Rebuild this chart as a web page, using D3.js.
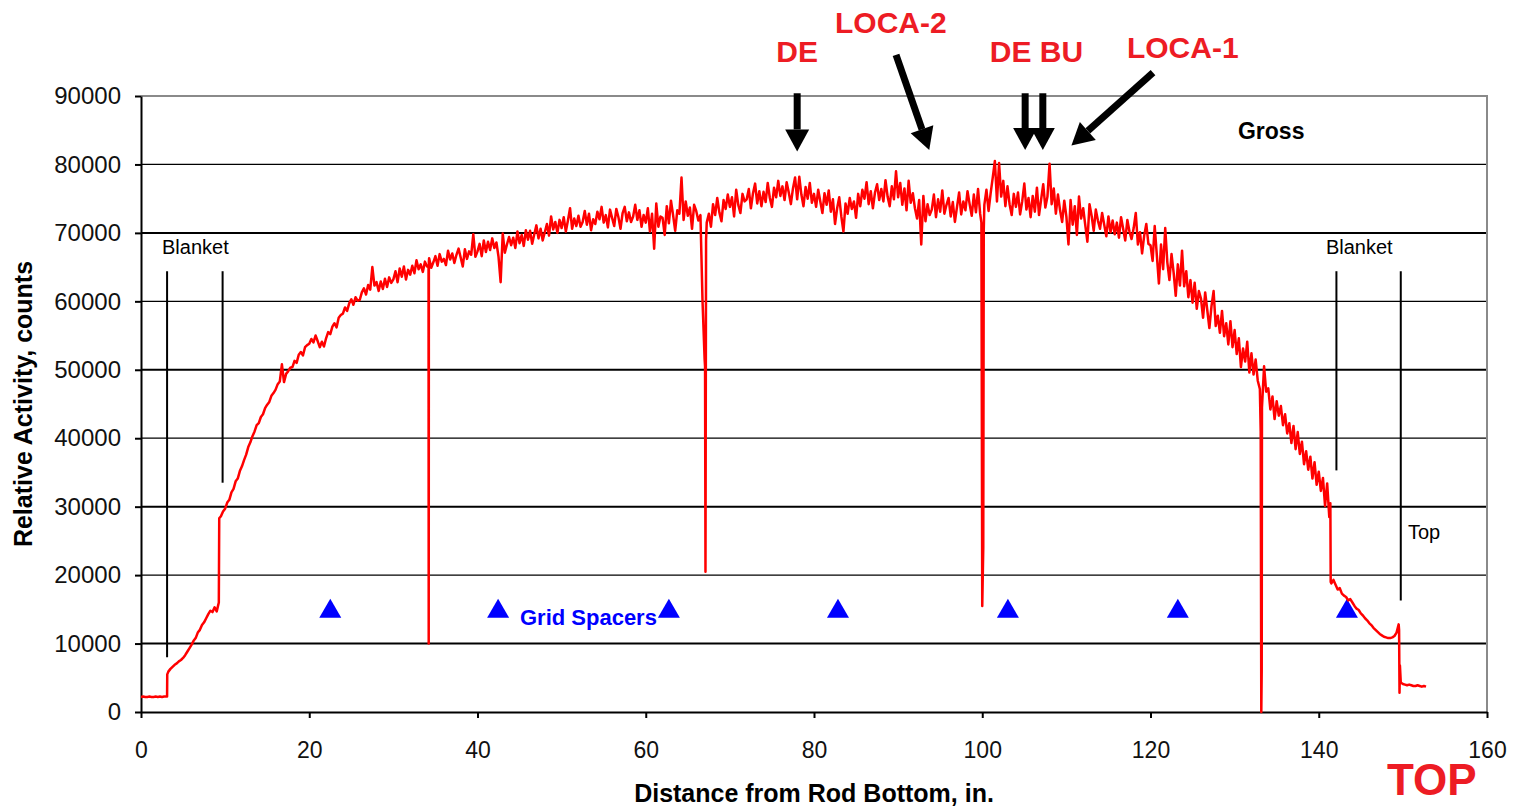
<!DOCTYPE html>
<html lang="en">
<head>
<meta charset="UTF-8">
<title>Gross gamma scan</title>
<script src="https://cdn.jsdelivr.net/npm/d3@7"></script>
<style>
  body { margin: 0; background: #fff; }
  text { font-family: "Liberation Sans", Arial, sans-serif; }
</style>
</head>
<body>
<div id="chart"></div>
<script>
// gross scan, one reading every 0.25 in from the rod bottom
const scanStart = 0, scanStep = 0.25;
const counts = [
  2200, 2250, 2200, 2200, 2250, 2200, 2200, 2250,
  2200, 2250, 2200, 2250, 2250, 5900, 6300, 6600,
  6900, 7100, 7400, 7600, 7900, 8300, 8800, 9300,
  9800, 10400, 10800, 11600, 12000, 12700, 13100, 13700,
  14300, 14800, 14600, 15300, 14700, 16000, 28600, 29300,
  29700, 30600, 31000, 32100, 32600, 33700, 34100, 35200,
  35900, 36800, 37600, 38700, 39400, 40300, 41000, 41900,
  42200, 43100, 43500, 44400, 44900, 45300, 46200, 46600,
  47100, 47900, 48300, 50800, 48200, 49400, 49800, 50300,
  50400, 51300, 51000, 52200, 52600, 52100, 53300, 53600,
  53800, 54500, 54000, 55000, 54200, 53300, 54100, 53400,
  54600, 55500, 55200, 56300, 56800, 56200, 57600, 58000,
  58200, 59100, 58600, 59700, 60300, 59500, 60600, 60100,
  60200, 61300, 61900, 61000, 62400, 61700, 65000, 62300,
  62800, 61500, 62900, 61800, 63300, 62100, 63500, 62700,
  63200, 64400, 62800, 64800, 63600, 65100, 63200, 64600,
  63900, 65200, 64100, 66000, 64700, 65400, 64300, 65800,
  65100, 66300, 64900, 65700, 66600, 65200, 66900, 65800,
  66200, 65300, 67400, 66100, 67000, 65600, 66800, 67700,
  66400, 65100, 67600, 66200, 67300, 66800, 69800, 66500,
  67300, 68400, 66600, 68900, 67200, 68700, 67500, 69200,
  67800, 68600, 66500, 62800, 69900, 67100, 68300, 69400,
  68200, 69300, 67800, 70200, 68500, 69700, 68100, 70400,
  69000, 70300, 68400, 69800, 71100, 69200, 70600, 68900,
  70100, 71300, 69600, 72400, 70500, 71600, 70000, 71900,
  70700, 72300, 70200, 71800, 73600, 70600, 72100, 71000,
  72500, 70900, 71600, 73200, 71200, 72800, 70400, 72000,
  71300, 73100, 72000, 73800, 71500, 72600, 70800, 73400,
  72200, 71000, 73500, 72300, 70600, 72900, 73800, 71700,
  73000, 71600, 72400, 74100, 71900, 73300, 70900, 72600,
  71500, 73600, 70200, 72800, 67700, 74300, 70900, 72400,
  72200, 69700, 73900, 71400, 74700, 72600, 70300, 73300,
  72800, 78100, 71900, 74600, 72500, 73700, 70600, 74100,
  73200, 71800, 72600, 60000, 51500, 71500, 72800, 70900,
  74200, 72600, 75100, 73000, 71700, 74800, 73500, 75600,
  73800, 75200, 72400, 76300, 74100, 72900, 75700, 74600,
  74900, 76400, 73600, 75800, 77200, 74300, 76100, 73900,
  76000, 74500, 77300, 75100, 73800, 76600, 75200, 77600,
  75400, 76800, 74800, 77400, 75900, 74200, 76500, 78100,
  74900, 78200, 75600, 73900, 76700, 75000, 77300, 74400,
  75700, 73800, 76300, 74600, 72900, 75800, 74100, 76200,
  73100, 74900, 71300, 73600, 75200, 72400, 70200, 74300,
  72800, 75100, 73500, 74600, 72200, 75700, 73900, 76300,
  75000, 77400, 74200, 76100, 73600, 75900, 77100, 74800,
  76400, 74600, 77700, 75300, 73900, 76800, 74900, 79000,
  75200, 77300, 74100, 76500, 73300, 77600, 74400, 75800,
  73600, 72100, 74800, 68300, 75400, 71700, 74200, 72600,
  73400, 75600, 72300, 74900, 73100, 76200, 72800, 74100,
  75100, 72400, 74500, 71600, 73800, 75900, 72700, 74600,
  73300, 76100, 74200, 72500, 75600, 73000, 76400, 72800,
  15500, 74100, 76300, 73200, 75800, 78100, 80500, 74600,
  80200, 75300, 77600, 73900, 76800, 74200, 72600, 75700,
  73800, 75900, 72700, 74600, 77200, 73400, 75100, 72300,
  75400, 73100, 76600, 72600, 74900, 77100, 73700, 75300,
  80100, 74200, 76500, 72800, 75600, 73300, 71600, 74700,
  72400, 68300, 74800, 71200, 73900, 69700, 75300, 72100,
  73600, 71100, 68700, 74200, 72500, 70300, 73400, 71800,
  70600, 72900, 71200, 69500, 72400, 70100, 71800, 69800,
  71500, 69300, 72300, 70600, 68900, 71900, 70200, 69100,
  70700, 72900, 68300, 70100, 67000, 69600, 71300, 68400,
  68200, 65900, 71000, 66800, 62600, 68300, 64700, 70700,
  65700, 63100, 66900, 64200, 60800, 65400, 62300, 67400,
  62200, 64400, 60600, 63100, 59800, 62700, 58900, 61500,
  60400, 57600, 61300, 58700, 56100, 59300, 61500, 56400,
  57900, 55400, 58600, 54900, 56800, 53700, 57100, 53300,
  55800, 52300, 54600, 50400, 53100, 51200, 54100, 49600,
  52400, 49300, 51500, 48400, 47200, 44500, 50500, 46800,
  47300, 44200, 46100, 42800, 45400, 43300, 44700, 41900,
  43500, 40700, 42200, 39300, 41800, 38400, 40900, 37700,
  39500, 36200, 38100, 35400, 37300, 34100, 36500, 33200,
  35100, 32300, 34200, 30100, 33400, 28500, 18800, 19300,
  18600, 17900, 18100, 17300, 17000, 16800, 16300, 16500,
  16000, 15500, 15100, 14900, 14400, 14100, 13700, 13400,
  13000, 12700, 12300, 12000, 11700, 11400, 11200, 11000,
  10900, 10800, 10800, 10900, 11100, 11600, 12800, 4300,
  4100, 4000, 3900, 4000, 3900, 3800, 3800, 3900,
  3800, 3700, 3800, 3700
];

// sharp steps and dips that fall between the regular readings [in, counts]
const features = [
  [3.1, 2250], [3.12, 5500], [9.3, 28300],
  [34.18, 65000], [34.2, 10000], [34.22, 65800],
  [67.05, 50500], [67.1, 20500], [67.17, 69000],
  [99.9, 71500], [100.12, 24000], [100.18, 70500],
  [133.1, 41000], [133.17, 0], [133.22, 6000],
  [141.38, 30500], [141.42, 19000],
  [149.55, 12000], [149.6, 2800], [149.65, 6800]
];

const spacerPositions = [22.5, 42.45, 62.75, 82.85, 103.05, 123.25, 143.35];
const spacerLevel = 14700;

const xTicks = [0, 20, 40, 60, 80, 100, 120, 140, 160];
const yTicks = [0, 10000, 20000, 30000, 40000, 50000, 60000, 70000, 80000, 90000];

// vertical region markers [in, top, bottom]
const regionLines = [[3.1, 64400, 8000], [9.7, 64400, 33500], [142.1, 64400, 35300], [149.75, 64400, 16300]];

// arrows [fromIn, fromCounts, toIn, toCounts]
const arrows = [
  [78.0, 90400, 78.0, 81900],
  [89.75, 96000, 93.7, 82100],
  [105.1, 90400, 105.1, 82100],
  [107.2, 90400, 107.2, 82100],
  [120.3, 93400, 110.6, 82750]
];

const width = 1518, height = 809;
const margin = {top: 96, right: 31, bottom: 97, left: 141};
const iw = width - margin.left - margin.right,
      ih = height - margin.top - margin.bottom;

const svg = d3.select("#chart").append("svg")
    .attr("width", width).attr("height", height)
    .style("background", "#fff");
const g = svg.append("g").attr("transform", `translate(${margin.left},${margin.top})`);

const x = d3.scaleLinear().domain([0, 160]).range([0, iw]);
const y = d3.scaleLinear().domain([0, 90000]).range([ih, 0]);

// horizontal gridlines
g.selectAll(".grid").data(yTicks.filter(v => v > 0 && v < 90000)).join("line")
    .attr("x1", 0).attr("x2", iw)
    .attr("y1", d => y(d)).attr("y2", d => y(d))
    .attr("stroke", "#000")
    .attr("stroke-width", d => (d / 10000) % 2 === 1 ? 2 : 1.3);

// plot-area border top / right
g.append("path")
    .attr("d", `M0,${y(90000)}H${iw}V${ih}`)
    .attr("fill", "none").attr("stroke", "#8a8a8a").attr("stroke-width", 2);

// axes
const yAxis = g.append("g")
    .call(d3.axisLeft(y).tickValues(yTicks).tickSize(6).tickSizeOuter(0).tickPadding(14).tickFormat(d3.format("d")));
const xAxis = g.append("g").attr("transform", `translate(0,${ih})`)
    .call(d3.axisBottom(x).tickValues(xTicks).tickSize(6).tickSizeOuter(0).tickPadding(24));
[xAxis, yAxis].forEach(a => {
  a.select(".domain").attr("stroke", "#000").attr("stroke-width", 2);
  a.selectAll(".tick line").attr("stroke", "#000").attr("stroke-width", 2);
  a.selectAll(".tick text").attr("fill", "#111").style("font-family", '"Liberation Sans", Arial, sans-serif');
});
yAxis.selectAll(".tick text").style("font-size", "24px");
xAxis.selectAll(".tick text").style("font-size", "23px");

// region marker lines
g.selectAll(".region").data(regionLines).join("line")
    .attr("x1", d => x(d[0])).attr("x2", d => x(d[0]))
    .attr("y1", d => y(d[1])).attr("y2", d => y(d[2]))
    .attr("stroke", "#000").attr("stroke-width", 2);

// grid spacer markers
g.selectAll(".spacer").data(spacerPositions).join("path")
    .attr("d", d3.symbol(d3.symbolTriangle, 210))
    .attr("transform", d => `translate(${x(d)},${y(spacerLevel)})`)
    .attr("fill", "#0000ff");

// scan line
const points = counts.map((c, i) => [scanStart + i * scanStep, c])
    .concat(features)
    .sort((a, b) => a[0] - b[0]);
g.append("path")
    .datum(points)
    .attr("fill", "none")
    .attr("stroke", "#ff0000")
    .attr("stroke-width", 2.5)
    .attr("stroke-linejoin", "round")
    .attr("d", d3.line().x(d => x(d[0])).y(d => y(d[1])));

// arrows
arrows.forEach(([x0, y0, x1, y1]) => {
  const p0 = [x(x0), y(y0)], p1 = [x(x1), y(y1)];
  const ang = Math.atan2(p1[1] - p0[1], p1[0] - p0[0]);
  const headLen = 22, headHalf = 12;
  const base = [p1[0] - headLen * Math.cos(ang), p1[1] - headLen * Math.sin(ang)];
  g.append("line")
      .attr("x1", p0[0]).attr("y1", p0[1]).attr("x2", base[0]).attr("y2", base[1])
      .attr("stroke", "#000").attr("stroke-width", 7);
  const nx = -Math.sin(ang), ny = Math.cos(ang);
  g.append("path")
      .attr("d", `M${p1[0]},${p1[1]}L${base[0] + nx * headHalf},${base[1] + ny * headHalf}L${base[0] - nx * headHalf},${base[1] - ny * headHalf}Z`)
      .attr("fill", "#000");
});

// labels
const red = "#ed1c24";
const labels = [
  {t: "DE", x: 78.0, y: 94970, size: 30, w: "bold", c: red, a: "middle"},
  {t: "LOCA-2", x: 82.5, y: 99200, size: 30, w: "bold", c: red, a: "start"},
  {t: "DE BU", x: 100.9, y: 94970, size: 30, w: "bold", c: red, a: "start"},
  {t: "LOCA-1", x: 117.2, y: 95550, size: 30, w: "bold", c: red, a: "start"},
  {t: "Gross", x: 130.4, y: 83680, size: 23, w: "bold", c: "#000", a: "start"},
  {t: "Blanket", x: 2.5, y: 66900, size: 20, w: "normal", c: "#000", a: "start"},
  {t: "Blanket", x: 140.85, y: 66900, size: 20, w: "normal", c: "#000", a: "start"},
  {t: "Top", x: 150.6, y: 25280, size: 20, w: "normal", c: "#000", a: "start"},
  {t: "Grid Spacers", x: 45.05, y: 12710, size: 22, w: "bold", c: "#0000ff", a: "start"},
  {t: "TOP", x: 148.1, y: -12100, size: 44, w: "bold", c: red, a: "start"}
];
g.selectAll(".lbl").data(labels).join("text")
    .attr("x", d => x(d.x)).attr("y", d => y(d.y))
    .attr("text-anchor", d => d.a)
    .attr("fill", d => d.c)
    .style("font-size", d => d.size + "px")
    .style("font-weight", d => d.w)
    .text(d => d.t);

// axis titles
svg.append("text")
    .attr("transform", `translate(32,${margin.top + ih / 2}) rotate(-90)`)
    .attr("text-anchor", "middle")
    .style("font-size", "25px").style("font-weight", "bold")
    .text("Relative Activity, counts");
svg.append("text")
    .attr("x", 814).attr("y", 802)
    .attr("text-anchor", "middle")
    .style("font-size", "25px").style("font-weight", "bold")
    .text("Distance from Rod Bottom, in.");
</script>
</body>
</html>
